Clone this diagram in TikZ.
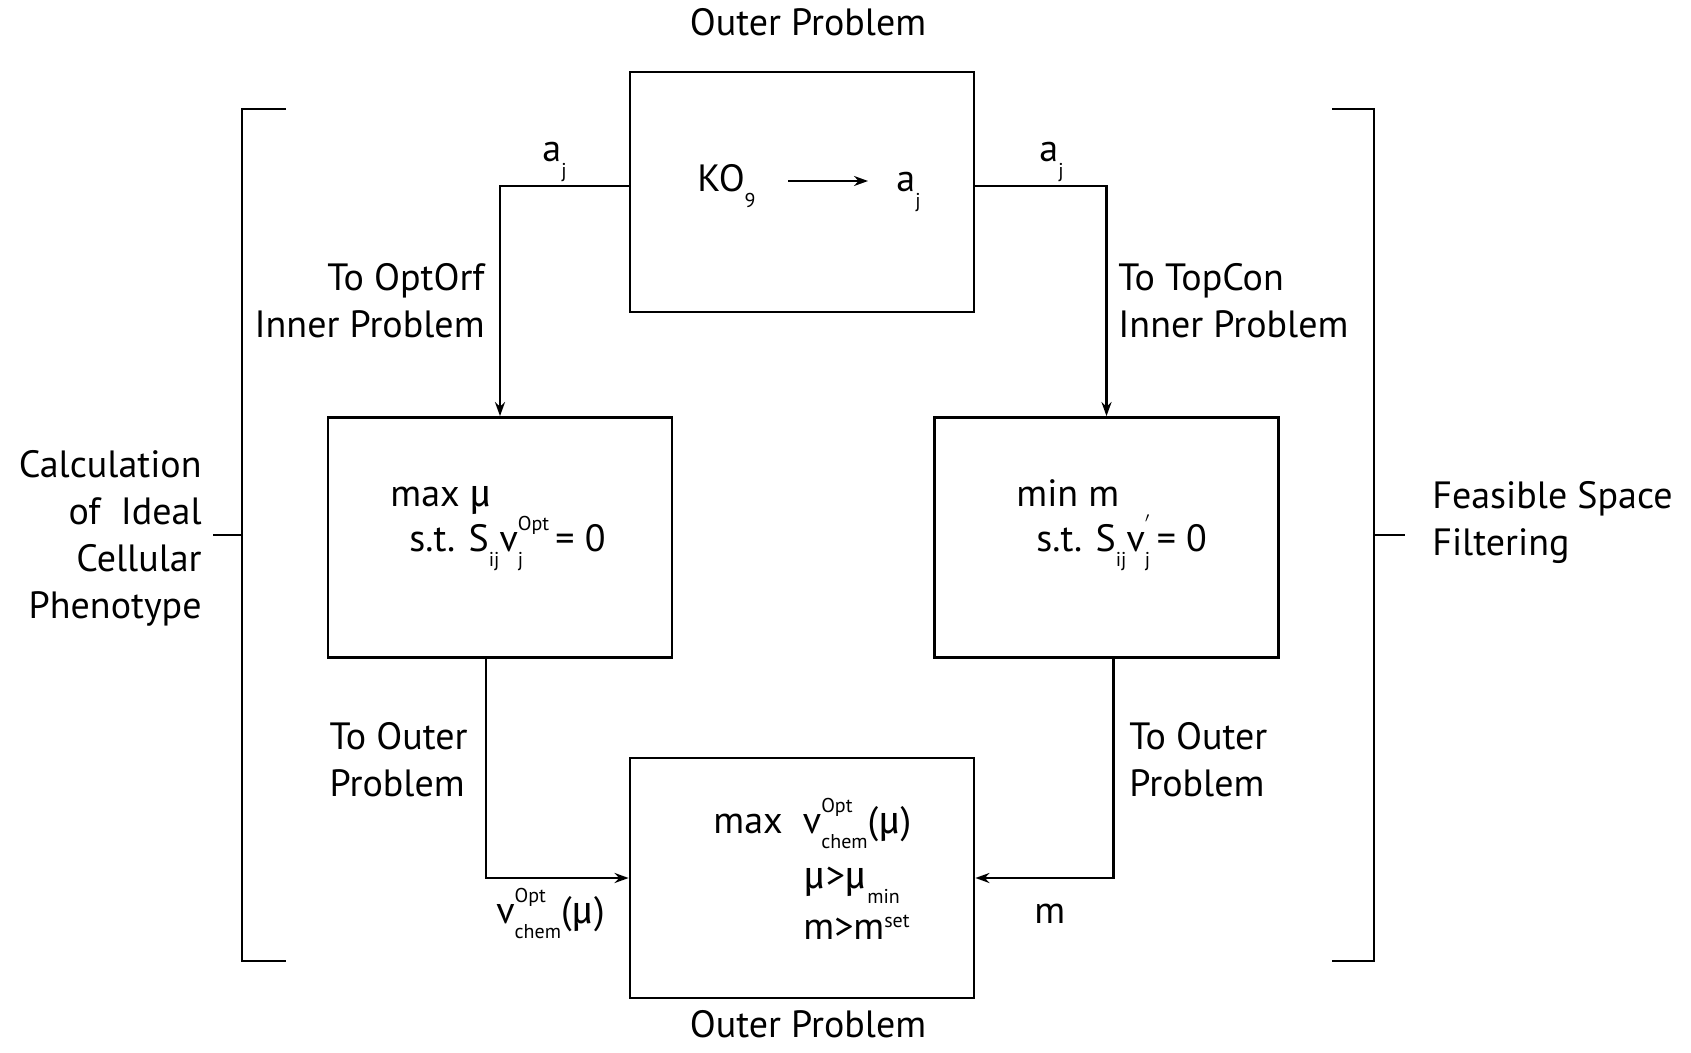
\documentclass[tikz,border=0pt]{standalone}
\usepackage{fontspec}
\setmainfont{PT Sans}
\newfontfamily\grfont{Fira Sans}
\usetikzlibrary{arrows.meta}
\newcommand\mymu{{\grfont μ}}
\newcommand\lo[1]{\raisebox{-0.4em}{\fontsize{10}{10}\selectfont #1}}
\newcommand\hi[1]{\raisebox{0.55em}{\fontsize{10}{10}\selectfont #1}}
\newcommand\hilow[1]{\raisebox{0.3em}{\fontsize{10}{10}\selectfont #1}}
\tikzset{
  box/.style={draw, line width=1.4pt, minimum width=172pt, minimum height=120pt, inner sep=0pt},
  conn/.style={line width=1.4pt, -{Stealth[length=7pt,width=5pt]}},
  brk/.style={line width=1.4pt},
  lbl/.style={inner sep=0pt, font=\fontsize{19}{23.5}\selectfont},
}
\begin{document}
\begin{tikzpicture}[x=0.5pt,y=-0.5pt]
\useasboundingbox (0,0) rectangle (1691,1053);
% boxes
\node[box] (top) at (802,192) {};
\node[box] (left) at (500,537.5) {};
\node[box] (right) at (1106.5,537.5) {};
\node[box] (bot) at (802,878) {};
% titles
\node[lbl, anchor=base] (t1) at (808,36) {Outer Problem};
\node[lbl, anchor=base] (t2) at (808,1037) {Outer Problem};
% top box content
\node[lbl, anchor=base west] (ko) at (697,192) {KO\lo{9}};
\node[lbl, anchor=base west] (aj) at (896,192) {a\lo{j}};
\draw[conn] (788,181) -- (868,181);
% connectors
\draw[conn] ([yshift=3pt]top.west) -| (left.north);
\draw[conn] ([yshift=3pt]top.east) -| (right.north);
\draw[conn] ([xshift=-7pt]left.south) |- (bot.west);
\draw[conn] ([xshift=3.5pt]right.south) |- (bot.east);
% connector labels
\node[lbl, anchor=base west] (la) at (542,162) {a\lo{j}};
\node[lbl, anchor=base west] (ra) at (1039,162) {a\lo{j}};
\node[lbl, anchor=base east, align=right] (l1) at (485,338) {To OptOrf\\Inner Problem};
\node[lbl, anchor=base west, align=left] (r1) at (1118,338) {To TopCon\\Inner Problem};
\node[lbl, anchor=base east, align=left] (l2) at (468,796) {To Outer\\Problem};
\node[lbl, anchor=base west, align=left] (r2) at (1129,796) {To Outer\\Problem};
\node[lbl, anchor=base west] (lv) at (496,923) {v\rlap{\hi{Opt}}\lo{chem}(\mymu)};
\node[lbl, anchor=base west] (rm) at (1034,923) {m};
% inner box contents
\node[lbl, anchor=base west] (a1) at (390,506) {max \mymu};
\node[lbl, anchor=base west] (a2) at (409,551) {s.t. S\lo{ij}v\rlap{\lo{j}}\hi{Opt}\,= 0};
\node[lbl, anchor=base west] (b1) at (1016,506) {min m};
\node[lbl, anchor=base west] (b2) at (1036,551) {s.t. S\lo{ij}v\rlap{\lo{j}}\hi{$'$}\,= 0};
\node[lbl, anchor=base west] (c1) at (713,833) {max\ \ v\rlap{\hi{Opt}}\lo{chem}(\mymu)};
\node[lbl, anchor=base west] (c2) at (803,888) {\mymu>\mymu\lo{min}};
\node[lbl, anchor=base west] (c3) at (803,939) {m>m\hilow{set}};
% side labels
\node[lbl, anchor=base east, align=right] (cl) at (202,618) {Calculation\\of\ \ Ideal\\Cellular\ \\Phenotype};
\node[lbl, anchor=base west, align=left] (fs) at (1432,555) {Feasible Space\\Filtering};
% brackets
\draw[brk] (286,109) -- (242,109) -- (242,961) -- (286,961);
\draw[brk] (213,535) -- (242,535);
\draw[brk] (1332,109) -- (1374,109) -- (1374,961) -- (1332,961);
\draw[brk] (1374,535) -- (1405,535);
\end{tikzpicture}
\end{document}
